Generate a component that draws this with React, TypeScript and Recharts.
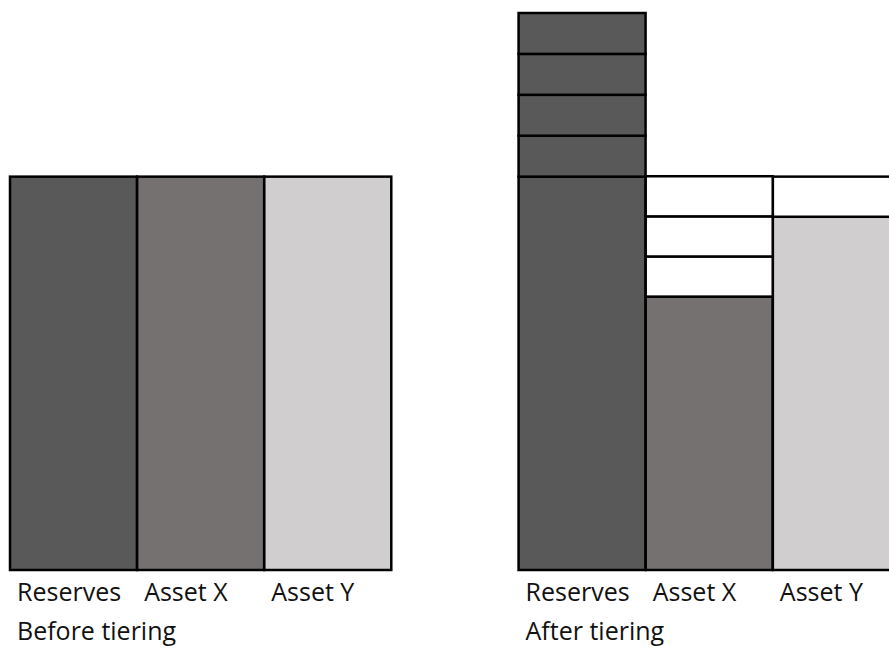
import React from "react";
import { BarChart, Bar, XAxis, YAxis, Cell } from "recharts";

const categories = ["Reserves", "Asset X", "Asset Y", "", "Reserves", "Asset X", "Asset Y"];
const groupLabels = ["Before tiering", "", "", "", "After tiering", "", ""];
const baseValues: (number | null)[] = [100, 100, 100, null, 100, 69.5, 89.8];
const tier1: (number | null)[] = [null, null, null, null, 10.4, 10.2, 10.2];
const tier2: (number | null)[] = [null, null, null, null, 10.4, 10.2, null];
const tier3: (number | null)[] = [null, null, null, null, 10.4, 10.2, null];
const tier4: (number | null)[] = [null, null, null, null, 10.4, null, null];
const baseColors = ["#595959", "#767171", "#D0CECE", "#ffffff", "#595959", "#767171", "#D0CECE"];
const tierColors = ["#ffffff", "#ffffff", "#ffffff", "#ffffff", "#595959", "#ffffff", "#ffffff"];

const data = categories.map((c, i) => ({
  id: i,
  name: c,
  base: baseValues[i],
  t1: tier1[i],
  t2: tier2[i],
  t3: tier3[i],
  t4: tier4[i],
}));

const CHART_W = 960;
const CHART_H = 639;
const MARGIN = { top: 5, right: 68, left: 2, bottom: 0 };
const BAND = (CHART_W - MARGIN.left - MARGIN.right) / categories.length;
const FONT = "'Open Sans', 'Noto Sans', sans-serif";

const BlockShape = (props: any) => {
  const { x, y, width, height, fill, value } = props;
  if (value == null || !height || Math.abs(height) < 0.5) return <g />;
  return (
    <rect
      x={x}
      y={y}
      width={width}
      height={height}
      fill={fill}
      stroke="#000"
      strokeWidth={2.5}
    />
  );
};

const Tick = (props: any) => {
  const { x, y, payload } = props;
  const i = Number(payload.value);
  const left = x - BAND / 2 + 7;
  return (
    <g>
      <text x={left} y={y} dy={30.5} textAnchor="start" fontFamily={FONT} fontSize={25} fill="#111">
        {categories[i]}
      </text>
      {groupLabels[i] ? (
        <text x={left} y={y} dy={69.5} textAnchor="start" fontFamily={FONT} fontSize={25} fill="#111">
          {groupLabels[i]}
        </text>
      ) : null}
    </g>
  );
};

const series: { key: string; colors: string[] }[] = [
  { key: "base", colors: baseColors },
  { key: "t1", colors: tierColors },
  { key: "t2", colors: tierColors },
  { key: "t3", colors: tierColors },
  { key: "t4", colors: tierColors },
];

export default function App() {
  return (
    <div
      style={{
        position: "fixed",
        left: 0,
        top: 0,
        width: "100vw",
        height: "100vh",
        overflow: "hidden",
        background: "#fff",
      }}
    >
      <style>{"html,body{overflow:hidden;margin:0;}"}</style>
      <div style={{ position: "absolute", left: 8, top: 8 }}>
        <BarChart
          width={CHART_W}
          height={CHART_H}
          data={data}
          margin={MARGIN}
          barCategoryGap={0}
          barGap={0}
        >
          <XAxis
            dataKey="id"
            type="category"
            axisLine={false}
            tickLine={false}
            tickSize={0}
            tickMargin={0}
            height={77}
            interval={0}
            tick={<Tick />}
          />
          <YAxis hide domain={[0, 141.6]} />
          {series.map((s) => (
            <Bar
              key={s.key}
              dataKey={s.key}
              stackId="a"
              isAnimationActive={false}
              shape={<BlockShape />}
            >
              {data.map((_, i) => (
                <Cell key={i} fill={s.colors[i]} />
              ))}
            </Bar>
          ))}
        </BarChart>
      </div>
    </div>
  );
}
